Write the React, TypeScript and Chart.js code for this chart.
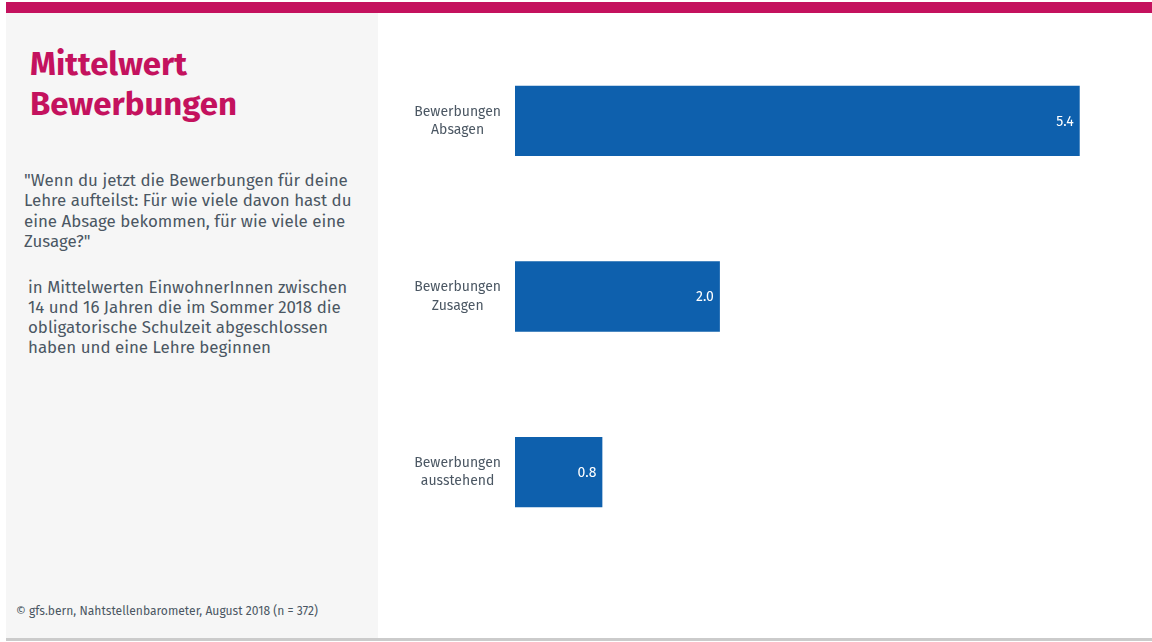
import React, { useEffect, useRef } from "react";
import { Chart, registerables } from "chart.js";

Chart.register(...registerables);

const categories: string[][] = [
  ["Bewerbungen", "Absagen"],
  ["Bewerbungen", "Zusagen"],
  ["Bewerbungen", "ausstehend"],
];
const meanValues: number[] = [5.43, 1.97, 0.84];
const xMax = 6;

const FONT = "'Fira Sans', Lato, 'Open Sans', sans-serif";
const BAR_COLOR = "#0e60ad";
const TEXT_COLOR = "#4b5763";

const valueLabelPlugin = {
  id: "valueLabels",
  afterDatasetsDraw(chart: any) {
    const ctx = chart.ctx;
    const meta = chart.getDatasetMeta(0);
    ctx.save();
    ctx.fillStyle = "#ffffff";
    ctx.font = `14px ${FONT}`;
    ctx.textAlign = "right";
    ctx.textBaseline = "middle";
    meta.data.forEach((bar: any, i: number) => {
      const v = chart.data.datasets[0].data[i] as number;
      ctx.fillText(v.toFixed(1), bar.x - 6, bar.y + 1);
    });
    ctx.restore();
  },
};

function BarChart() {
  const ref = useRef<HTMLCanvasElement | null>(null);
  useEffect(() => {
    if (!ref.current) return;
    const chart = new Chart(ref.current, {
      type: "bar",
      data: {
        labels: categories,
        datasets: [
          {
            data: meanValues,
            backgroundColor: BAR_COLOR,
            borderWidth: 0,
            categoryPercentage: 0.8,
            barPercentage: 0.5,
          },
        ],
      },
      options: {
        indexAxis: "y",
        responsive: false,
        animation: false,
        maintainAspectRatio: false,
        layout: { padding: 0 },
        plugins: { legend: { display: false }, tooltip: { enabled: false } },
        scales: {
          x: { display: false, min: 0, max: xMax },
          y: {
            grid: { display: false },
            border: { display: false },
            afterFit: (scale: any) => {
              scale.width = 115;
              scale.paddingTop = 0;
              scale.paddingBottom = 0;
            },
            ticks: {
              crossAlign: "center",
              padding: 6,
              color: TEXT_COLOR,
              font: { family: FONT, size: 14, lineHeight: 1.3 },
            },
          },
        },
      },
      plugins: [valueLabelPlugin],
    });
    return () => chart.destroy();
  }, []);
  return (
    <canvas
      ref={ref}
      width={739}
      height={527}
      style={{ position: "absolute", left: 400, top: 33, width: 739, height: 527 }}
    />
  );
}

export default function App() {
  return (
    <div
      style={{
        position: "fixed",
        left: 0,
        top: 0,
        width: 1152,
        height: 642,
        background: "#ffffff",
        overflow: "hidden",
        fontFamily: FONT,
      }}
    >
      <div style={{ position: "absolute", left: 6, top: 2, width: 1146, height: 11, background: "#c4125e" }} />
      <div style={{ position: "absolute", left: 6, top: 13, width: 372, height: 625, background: "#f6f6f6" }} />
      <div style={{ position: "absolute", left: 6, top: 638, width: 1146, height: 3, background: "#cbcbcb" }} />
      <div
        style={{
          position: "absolute",
          left: 30,
          top: 44,
          color: "#c4125e",
          fontWeight: 700,
          fontSize: 33,
          lineHeight: "40px",
          whiteSpace: "nowrap",
        }}
      >
        Mittelwert
        <br />
        Bewerbungen
      </div>
      <div
        style={{
          position: "absolute",
          left: 24,
          top: 170,
          color: TEXT_COLOR,
          fontSize: 16.9,
          lineHeight: "20.3px",
          whiteSpace: "nowrap",
        }}
      >
        "Wenn du jetzt die Bewerbungen für deine
        <br />
        Lehre aufteilst: Für wie viele davon hast du
        <br />
        eine Absage bekommen, für wie viele eine
        <br />
        Zusage?"
      </div>
      <div
        style={{
          position: "absolute",
          left: 28,
          top: 277,
          color: TEXT_COLOR,
          fontSize: 16.9,
          lineHeight: "20px",
          whiteSpace: "nowrap",
        }}
      >
        in Mittelwerten EinwohnerInnen zwischen
        <br />
        14 und 16 Jahren die im Sommer 2018 die
        <br />
        obligatorische Schulzeit abgeschlossen
        <br />
        haben und eine Lehre beginnen
      </div>
      <div
        style={{
          position: "absolute",
          left: 16,
          top: 603,
          color: TEXT_COLOR,
          fontSize: 12.1,
          lineHeight: "16px",
          whiteSpace: "nowrap",
        }}
      >
        © gfs.bern, Nahtstellenbarometer, August 2018 (n = 372)
      </div>
      <BarChart />
    </div>
  );
}
